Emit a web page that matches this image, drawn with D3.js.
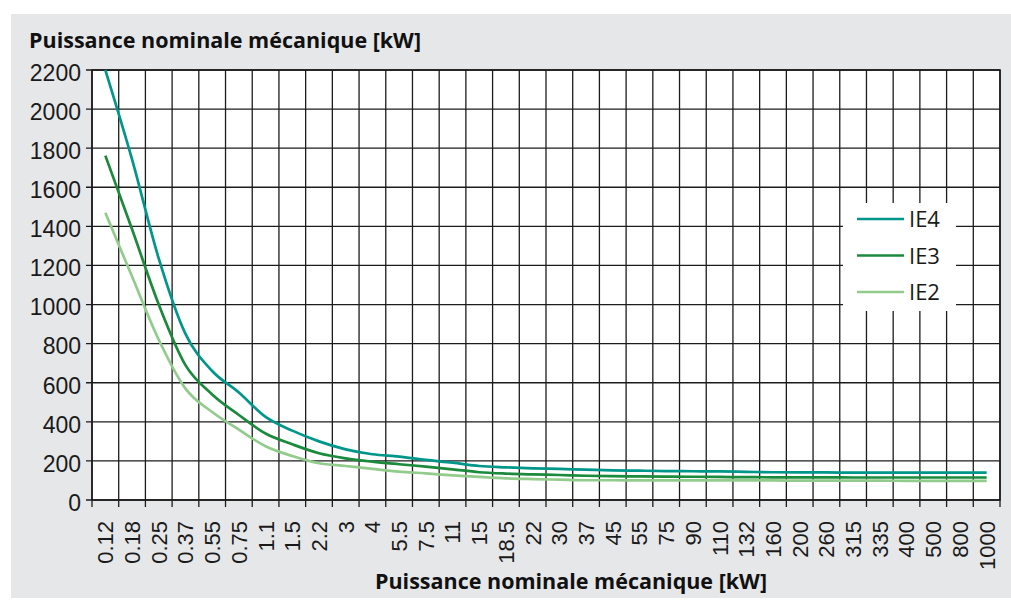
<!doctype html>
<html lang="fr">
<head>
  <meta charset="utf-8">
  <title>Puissance nominale mécanique</title>
  <style>
    body { margin: 0; background: #fff; }
    svg { display: block; font-family: "Open Sans", sans-serif; }
  </style>
</head>
<body>
  <script src="https://cdn.jsdelivr.net/npm/d3@7"></script>
  <script>
    // Chart data
    const categories = ['0.12', '0.18', '0.25', '0.37', '0.55', '0.75', '1.1', '1.5', '2.2', '3', '4', '5.5',
                        '7.5', '11', '15', '18.5', '22', '30', '37', '45', '55', '75', '90', '110', '132',
                        '160', '200', '260', '315', '335', '400', '500', '800', '1000'];
    const ie4 = [2200, 1743, 1235, 850, 660, 550, 425, 355, 300, 259, 234, 222, 205, 191, 174, 167, 162,
                 159, 155, 152, 150, 148, 147, 146, 144, 142, 141, 141, 140, 140, 140, 140, 140, 140];
    const ie3 = [1762, 1385, 1000, 690, 540, 435, 340, 285, 239, 213, 196, 183, 171, 157, 142, 135, 131,
                 128, 124, 122, 121, 120, 119, 118, 117, 116, 116, 116, 115, 115, 115, 115, 115, 115];
    const ie2 = [1470, 1143, 820, 570, 450, 360, 275, 225, 188, 174, 159, 145, 136, 126, 118, 111, 107,
                 104, 101, 101, 100, 100, 100, 100, 100, 100, 99, 99, 99, 99, 98, 98, 98, 98];
    const seriesNames = ['IE4', 'IE3', 'IE2'];
    const yTicks = [0, 200, 400, 600, 800, 1000, 1200, 1400, 1600, 1800, 2000, 2200];
    const axisTitle = 'Puissance nominale mécanique [kW]';

    const w = 1011;
    const h = 604;
    const colors = { IE4: '#00968a', IE3: '#1b8a3c', IE2: '#92cc8c' };
    const series = [
      { name: 'IE4', values: ie4 },
      { name: 'IE3', values: ie3 },
      { name: 'IE2', values: ie2 }
    ];

    const svg = d3.select('body')
                  .append('svg')
                  .attr('width', w)
                  .attr('height', h);

    // grey panel behind everything
    svg.append('rect')
       .attr('x', 11).attr('y', 14)
       .attr('width', 1000).attr('height', 584)
       .attr('fill', '#e6e7e9');

    const xScale = d3.scaleBand()
                     .domain(categories)
                     .range([92, 1000])
                     .padding(0);

    const yScale = d3.scaleLinear()
                     .domain([0, 2200])
                     .range([500, 70]);

    // white plot area
    svg.append('rect')
       .attr('x', 92).attr('y', 70)
       .attr('width', 908).attr('height', 430)
       .attr('fill', '#fff');

    // grid
    const bounds = categories.map((c) => xScale(c)).concat([xScale.range()[1]]);
    const grid = svg.append('g').attr('stroke', '#1c1c1c').attr('stroke-width', 1.3);
    grid.selectAll('line.v')
        .data(bounds)
        .enter()
        .append('line')
        .attr('class', 'v')
        .attr('x1', (d) => d).attr('x2', (d) => d)
        .attr('y1', yScale(2200)).attr('y2', yScale(0) + 7);
    grid.selectAll('line.h')
        .data(yTicks)
        .enter()
        .append('line')
        .attr('class', 'h')
        .attr('x1', 86).attr('x2', 1000)
        .attr('y1', (d) => yScale(d)).attr('y2', (d) => yScale(d));

    // y axis labels
    const yAxis = d3.axisLeft(yScale)
                    .tickValues(yTicks)
                    .tickFormat(d3.format('d'))
                    .tickSize(0)
                    .tickPadding(11);
    const gy = svg.append('g')
                  .attr('transform', 'translate(92, 0)')
                  .call(yAxis);
    gy.select('.domain').remove();
    gy.selectAll('text')
      .attr('dy', '0.45em')
      .style('font-size', '23px')
      .style('fill', '#1a1a1a');

    // x axis labels
    const xAxis = d3.axisBottom(xScale).tickSize(0);
    const gx = svg.append('g')
                  .attr('transform', 'translate(0, 500)')
                  .call(xAxis);
    gx.select('.domain').remove();
    gx.selectAll('text')
      .attr('transform', 'rotate(-90)')
      .attr('x', -21)
      .attr('y', 0)
      .attr('dy', '0.36em')
      .style('text-anchor', 'end')
      .style('font-size', '22px')
      .style('fill', '#1a1a1a');

    // plot border
    svg.append('rect')
       .attr('x', 92).attr('y', 70)
       .attr('width', 908).attr('height', 430)
       .attr('fill', 'none')
       .attr('stroke', '#1c1c1c')
       .attr('stroke-width', 1.6);

    // curves
    const line = d3.line()
                   .x((d, i) => xScale(categories[i]) + xScale.bandwidth() / 2)
                   .y((d) => yScale(d))
                   .curve(d3.curveMonotoneX);

    svg.selectAll('path.series')
       .data(series.slice().reverse())
       .enter()
       .append('path')
       .attr('class', 'series')
       .attr('d', (d) => line(d.values))
       .attr('fill', 'none')
       .attr('stroke', (d) => colors[d.name])
       .attr('stroke-width', 2.7);

    // legend
    const legend = svg.append('g');
    legend.append('rect')
          .attr('x', 843).attr('y', 203)
          .attr('width', 113).attr('height', 108)
          .attr('fill', '#fff');
    const items = legend.selectAll('g.item')
                        .data(seriesNames)
                        .enter()
                        .append('g')
                        .attr('class', 'item')
                        .attr('transform', (d, i) => `translate(0, ${219 + i * 36.5})`);
    items.append('line')
         .attr('x1', 857).attr('x2', 904)
         .attr('y1', 0).attr('y2', 0)
         .attr('stroke', (d) => colors[d])
         .attr('stroke-width', 2.7);
    items.append('text')
         .attr('x', 909)
         .attr('y', 0)
         .attr('dy', '0.38em')
         .style('font-size', '22px')
         .style('fill', '#1a1a1a')
         .text((d) => d);

    // titles
    svg.append('text')
       .attr('x', 29)
       .attr('y', 48)
       .style('font-size', '21.5px')
       .style('font-weight', 'bold')
       .style('fill', '#111')
       .text(axisTitle);

    svg.append('text')
       .attr('x', 571)
       .attr('y', 589)
       .style('text-anchor', 'middle')
       .style('font-size', '21.5px')
       .style('font-weight', 'bold')
       .style('fill', '#111')
       .text(axisTitle);
  </script>
</body>
</html>
